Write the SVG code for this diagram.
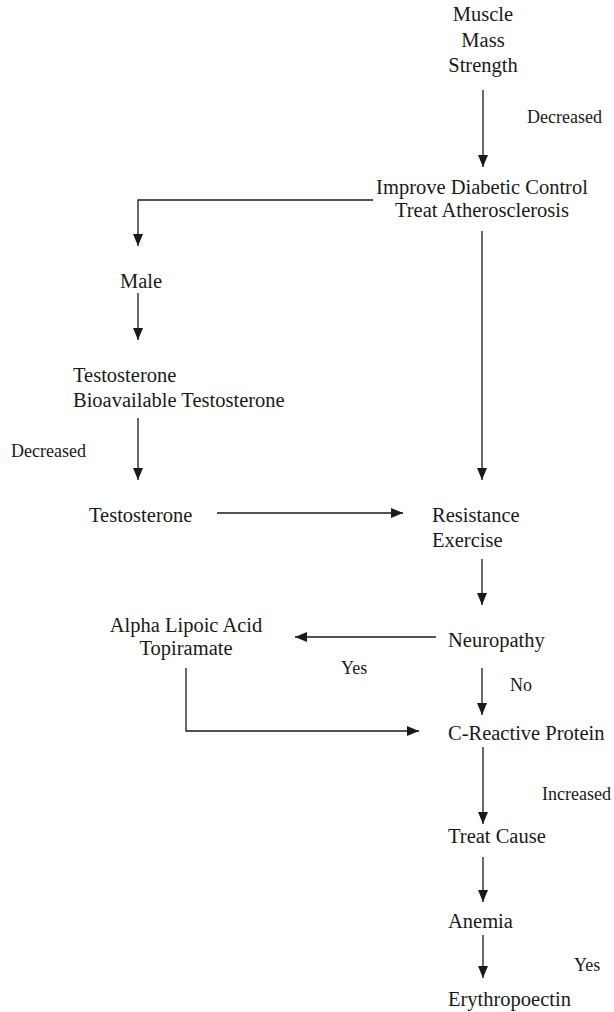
<svg xmlns="http://www.w3.org/2000/svg" width="614" height="1012" viewBox="0 0 614 1012">
<style>
text{font-family:"Liberation Serif","Times New Roman",serif;fill:#1a1a1a}
.n{font-size:20.5px}
.l{font-size:18px}
.c{text-anchor:middle}
.e{fill:none;stroke:#1a1a1a;stroke-width:1.3}
</style>
<defs>
<marker id="ah" viewBox="0 0 12 10" refX="12" refY="5" markerWidth="12" markerHeight="10" markerUnits="userSpaceOnUse" orient="auto">
<path d="M0,0 L12,5 L0,10 z" fill="#1a1a1a"/>
</marker>
</defs>
<rect width="614" height="1012" fill="#fff"/>
<g id="connectors">
<line class="e" x1="483" y1="90" x2="483" y2="167" marker-end="url(#ah)"/>
<polyline class="e" points="373,200 138,200 138,246" marker-end="url(#ah)"/>
<line class="e" x1="138" y1="293" x2="138" y2="340" marker-end="url(#ah)"/>
<line class="e" x1="138" y1="418" x2="138" y2="480" marker-end="url(#ah)"/>
<line class="e" x1="217" y1="513" x2="403" y2="513" marker-end="url(#ah)"/>
<line class="e" x1="482" y1="231" x2="482" y2="480" marker-end="url(#ah)"/>
<line class="e" x1="482" y1="559" x2="482" y2="605" marker-end="url(#ah)"/>
<line class="e" x1="436" y1="637" x2="295" y2="637" marker-end="url(#ah)"/>
<line class="e" x1="482" y1="668" x2="482" y2="715" marker-end="url(#ah)"/>
<polyline class="e" points="186,668 186,731 419,731" marker-end="url(#ah)"/>
<line class="e" x1="483" y1="747" x2="483" y2="824" marker-end="url(#ah)"/>
<line class="e" x1="483" y1="857" x2="483" y2="902" marker-end="url(#ah)"/>
<line class="e" x1="483" y1="935" x2="483" y2="978" marker-end="url(#ah)"/>
<text class="l" x="527" y="123">Decreased</text>
<text class="l" x="11" y="457">Decreased</text>
<text class="l" x="341" y="674">Yes</text>
<text class="l" x="510" y="691">No</text>
<text class="l" x="542" y="800">Increased</text>
<text class="l" x="574" y="971">Yes</text>
</g>
<g id="muscle"><text class="n c" x="483" y="21">Muscle</text><text class="n c" x="483" y="47">Mass</text><text class="n c" x="483" y="72">Strength</text></g>
<g id="improve"><text class="n c" x="482" y="194">Improve Diabetic Control</text><text class="n c" x="482" y="217">Treat Atherosclerosis</text></g>
<g id="male"><text class="n c" x="141" y="288">Male</text></g>
<g id="testosterone1"><text class="n" x="73" y="382">Testosterone</text><text class="n" x="73" y="407">Bioavailable Testosterone</text></g>
<g id="testosterone2"><text class="n" x="89" y="522">Testosterone</text></g>
<g id="resistance"><text class="n" x="432" y="522">Resistance</text><text class="n" x="432" y="547">Exercise</text></g>
<g id="neuropathy"><text class="n" x="448" y="647">Neuropathy</text></g>
<g id="alpha"><text class="n c" x="186" y="632">Alpha Lipoic Acid</text><text class="n c" x="186" y="655">Topiramate</text></g>
<g id="crp"><text class="n" x="448" y="740">C-Reactive Protein</text></g>
<g id="treatcause"><text class="n" x="448" y="843">Treat Cause</text></g>
<g id="anemia"><text class="n" x="448" y="928">Anemia</text></g>
<g id="epo"><text class="n" x="448" y="1006">Erythropoectin</text></g>
</svg>
